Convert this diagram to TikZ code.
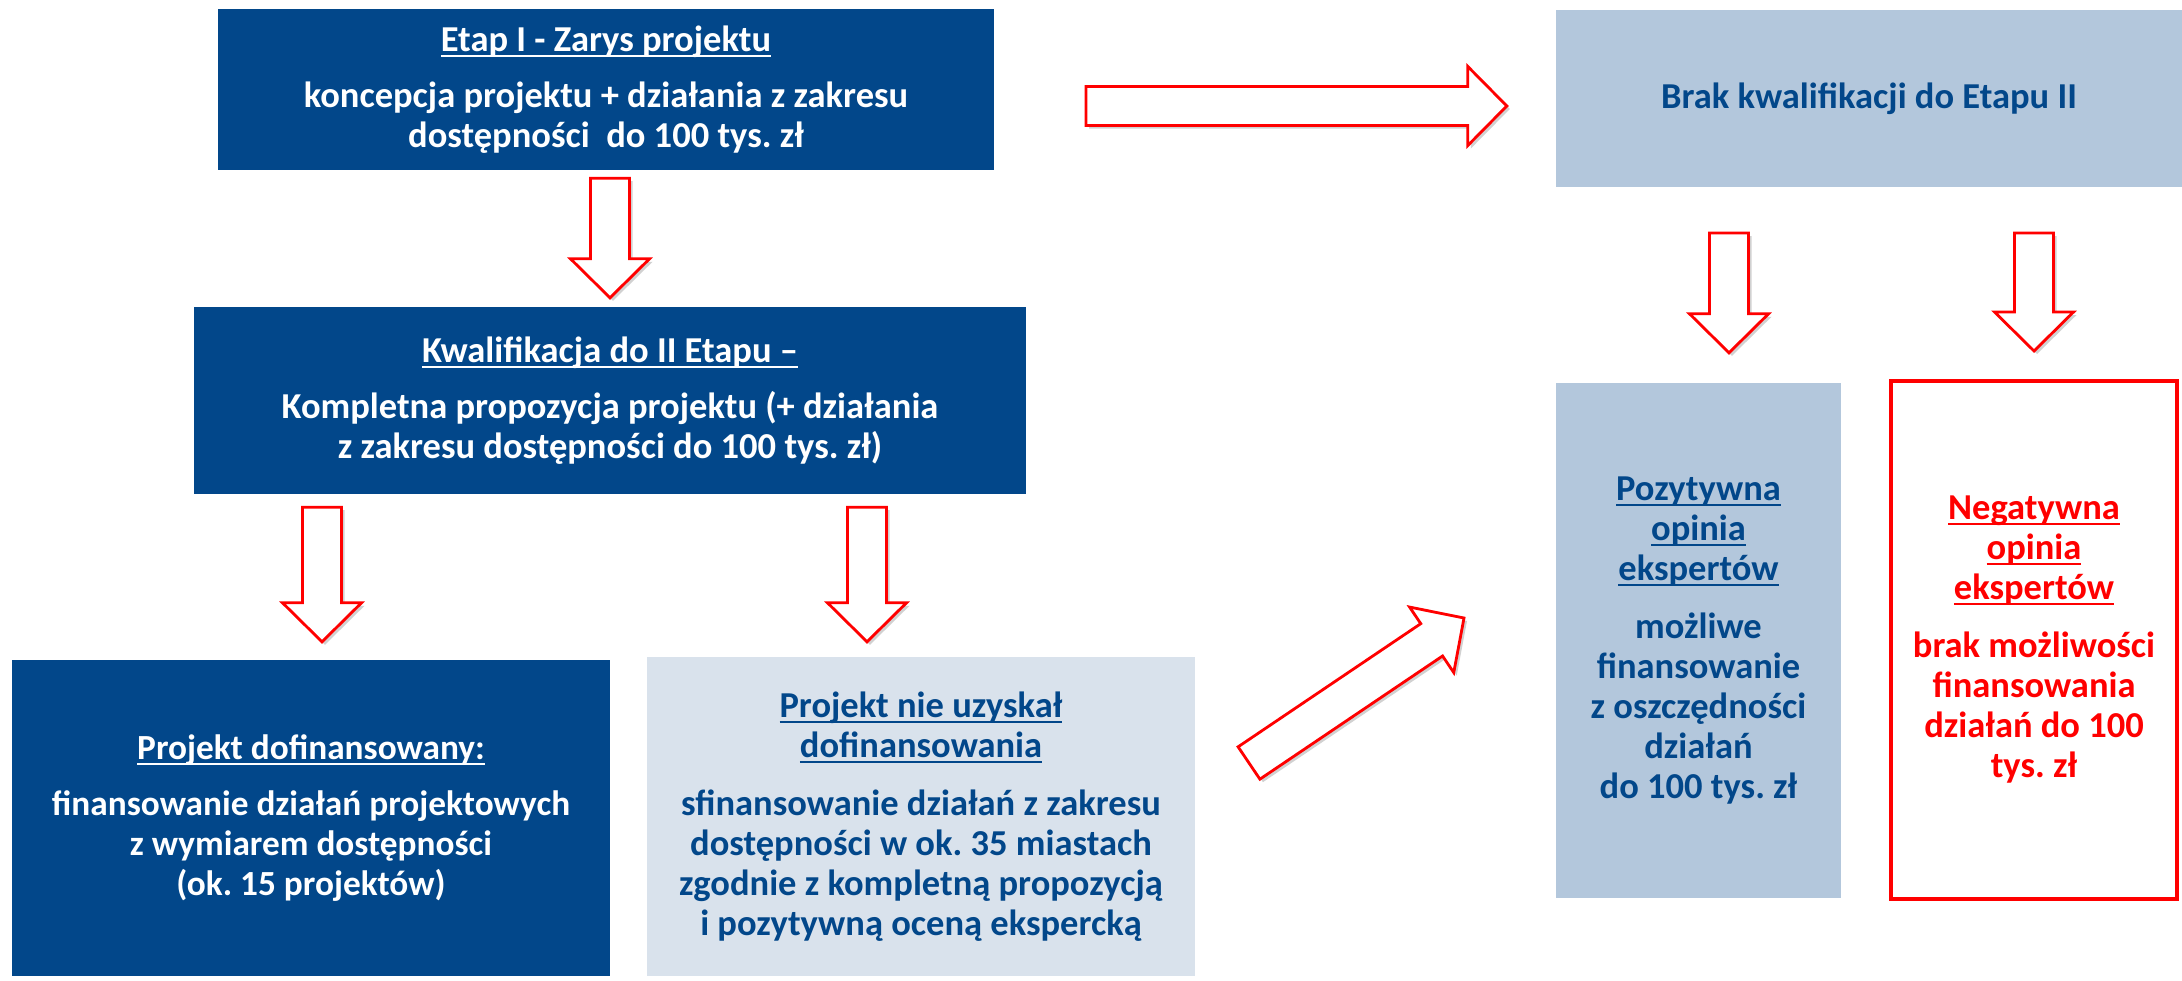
\documentclass[tikz,border=0pt]{standalone}
\usepackage{fontspec}
\setmainfont{Carlito}
\usetikzlibrary{calc,shadows}
\definecolor{dblue}{RGB}{2,71,138}
\definecolor{lblue}{RGB}{179,199,220}
\definecolor{pblue}{RGB}{217,226,236}
\definecolor{ared}{RGB}{255,0,0}
\newsavebox\ulbox
\newcommand\ulin[1]{\sbox\ulbox{#1}\rlap{\rule[-5.5pt]{\wd\ulbox}{2.2pt}}\usebox\ulbox}
\newcommand\blockarrow[2]{%
 \path let \p1=(#1), \p2=(#2), \n1={atan2(\y2-\y1,\x2-\x1)}, \n2={veclen(\x2-\x1,\y2-\y1)} in
  [barrow] ($(\p1)+(\n1+90:19.5pt)$)
   -- ($(\p1)+(\n1:{(\n2-39)*1pt})+(\n1+90:19.5pt)$)
   -- ($(\p1)+(\n1:{(\n2-39)*1pt})+(\n1+90:39.5pt)$)
   -- (\p2)
   -- ($(\p1)+(\n1:{(\n2-39)*1pt})+(\n1-90:39.5pt)$)
   -- ($(\p1)+(\n1:{(\n2-39)*1pt})+(\n1-90:19.5pt)$)
   -- ($(\p1)+(\n1-90:19.5pt)$)
   -- cycle;}
\tikzset{
 box/.style={rectangle, inner sep=0pt, align=center,
   font=\fontsize{36.5}{40}\selectfont\bfseries\frenchspacing},
 darkbox/.style={box, fill=dblue, text=white},
 lightbox/.style={box, fill=lblue, text=dblue},
 palebox/.style={box, fill=pblue, text=dblue},
 redbox/.style={box, draw=ared, line width=4pt, fill=white, text=ared},
 barrow/.style={draw=ared, line width=2.8pt, fill=white, line join=miter,
   drop shadow={shadow xshift=3pt, shadow yshift=-3pt, opacity=0.18, fill=black}},
}
\begin{document}
\begin{tikzpicture}[x=1pt,y=-1pt]
\useasboundingbox[fill=white] (0,0) rectangle (2182,980);
% boxes
\node[darkbox, minimum width=776pt, minimum height=161pt] (e1) at (606,89.5)
 {\ulin{Etap I - Zarys projektu}\\[16pt]
  koncepcja projektu + działania z zakresu\\
  dostępności\ \ do 100 tys. zł};
\node[lightbox, minimum width=626pt, minimum height=177pt] (brak) at (1869,98.5)
 {Brak kwalifikacji do Etapu II};
\node[darkbox, minimum width=832pt, minimum height=187pt] (e2) at (610,400.5)
 {\ulin{Kwalifikacja do II Etapu –}\\[16pt]
  Kompletna propozycja projektu (+ działania\\
  z zakresu dostępności do 100 tys. zł)};
\node[darkbox, minimum width=598pt, minimum height=316pt,
      font=\fontsize{35.3}{40}\selectfont\bfseries\frenchspacing] (dof) at (311,818)
 {\ulin{Projekt dofinansowany:}\\[16pt]
  finansowanie działań projektowych\\
  z wymiarem dostępności\\
  (ok. 15 projektów)};
\node[palebox, minimum width=548pt, minimum height=319pt] (nie) at (921,816.5)
 {\ulin{Projekt nie uzyskał}\\
  \ulin{dofinansowania}\\[18pt]
  sfinansowanie działań z zakresu\\
  dostępności w ok. 35 miastach\\
  zgodnie z kompletną propozycją\\
  i pozytywną oceną ekspercką};
\node[lightbox, minimum width=285pt, minimum height=515pt] (poz) at (1698.5,640.5)
 {\ulin{Pozytywna}\\
  \ulin{opinia}\\
  \ulin{ekspertów}\\[18pt]
  możliwe\\
  finansowanie\\
  z oszczędności\\
  działań\\
  do 100 tys. zł};
\node[redbox, minimum width=286pt, minimum height=518pt] (neg) at (2034,640)
 {\ulin{Negatywna}\\
  \ulin{opinia}\\
  \ulin{ekspertów}\\[18pt]
  brak możliwości\\
  finansowania\\
  działań do 100\\
  tys. zł};
% arrow end points
\coordinate (a1t) at ($(e1.south)+(4,8)$);
\coordinate (a1h) at ($(e2.north)+(0,-9)$);
\coordinate (a2t) at (1086,106);
\coordinate (a2h) at ($(brak.west)+(-49,7.5)$);
\coordinate (a3t) at ($(e2.south)+(-288,13)$);
\coordinate (a3h) at ($(dof.north)+(11,-18)$);
\coordinate (a4t) at ($(e2.south)+(257,13)$);
\coordinate (a4h) at ($(nie.north)+(-54,-15)$);
\coordinate (a5t) at (1249,763);
\coordinate (a5h) at (1464,618);
\coordinate (a6t) at (1729,233);
\coordinate (a6h) at ($(poz.north)+(30.5,-30)$);
\coordinate (a7t) at (2034,233);
\coordinate (a7h) at ($(neg.north)+(0,-28)$);
\blockarrow{a1t}{a1h}
\blockarrow{a2t}{a2h}
\blockarrow{a3t}{a3h}
\blockarrow{a4t}{a4h}
\blockarrow{a5t}{a5h}
\blockarrow{a6t}{a6h}
\blockarrow{a7t}{a7h}
\end{tikzpicture}
\end{document}
